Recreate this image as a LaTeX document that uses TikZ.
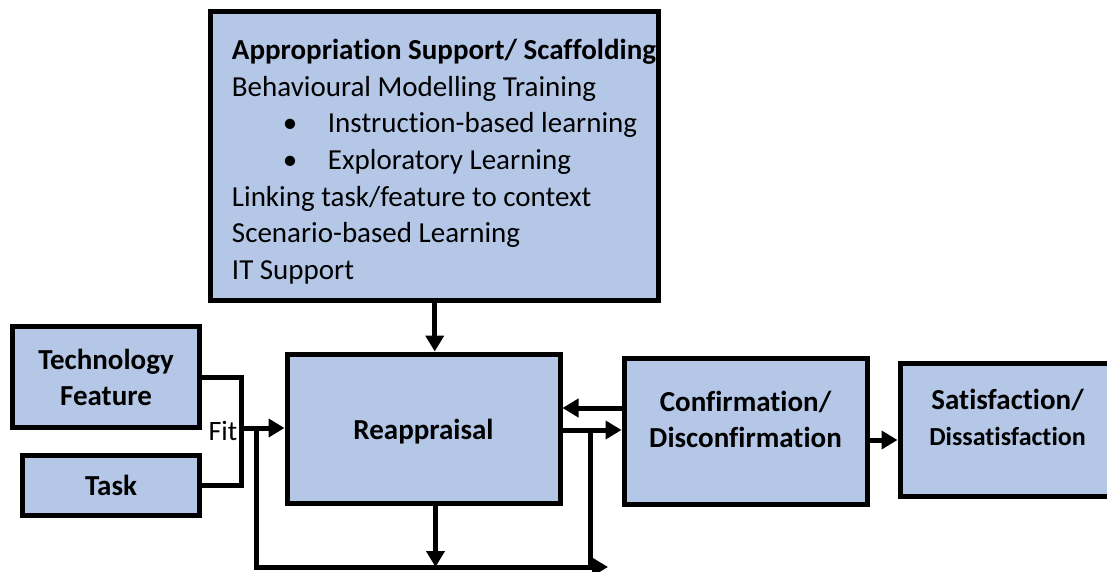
\documentclass[tikz,border=0pt]{standalone}
\usepackage{fontspec}
\setmainfont{Carlito}[Ligatures={NoCommon}]
\usepackage{tikz}
\definecolor{boxfill}{HTML}{B4C7E7}
\usetikzlibrary{arrows.meta, calc, positioning}

\begin{document}
\begin{tikzpicture}[x=1pt, y=-1pt]

  \tikzstyle{box} = [%
  draw=black,
  fill=boxfill,
  line width=5pt,
  rectangle,
  inner sep=0pt,
  font=\fontsize{29}{36}\bfseries,
  align=center,
  ];
  \tikzstyle{lbl} = [%
  inner sep=0pt,
  align=center,
  font=\fontsize{29}{36.5}\bfseries,
  ];
  \tikzstyle{arr} = [%
  line width=5pt,
  -{Triangle[length=16pt, width=18pt]},
  ];
  \tikzset{wire/.style={line width=5pt}}

  \useasboundingbox (0,0) rectangle (1107,572);

  % boxes
  \node[box, minimum width=448pt, minimum height=289pt]
    (appr) at (434.75,156.25) {};
  \node[anchor=north west, inner sep=0pt, align=left,
        font=\fontsize{29}{36.6}\selectfont]
    (apprtxt) at ([xshift=23.5pt, yshift=-30pt]appr.north west) {%
      \textbf{Appropriation Support/ Scaffolding}\\
      Behavioural Modelling Training\\
      \hspace*{51pt}\makebox[45pt][l]{\textbullet}Instruction-based learning\\
      \hspace*{51pt}\makebox[45pt][l]{\textbullet}Exploratory Learning\\
      Linking task/feature to context\\
      Scenario-based Learning\\
      IT Support};
  \node[box, minimum width=187pt, minimum height=101pt]
    (tech) at (106,377) {Technology\\Feature};
  \node[box, minimum width=177pt, minimum height=60pt]
    (task) at (111,485) {Task};
  \node[box, minimum width=273pt, minimum height=149pt]
    (reapp) at (423.5,428.5) {};
  \node[lbl] (reapptxt) at ([yshift=-3pt]reapp.center) {Reappraisal};
  \node[box, minimum width=243pt, minimum height=146pt]
    (conf) at (745.5,431) {};
  \node[lbl, anchor=north] at ([yshift=-35pt]conf.north)
    {Confirmation/\\Disconfirmation};
  \node[box, minimum width=215pt, minimum height=133pt]
    (sat) at (1007.5,429.5) {};
  \node[lbl, anchor=north] at ([yshift=-28pt]sat.north)
    {Satisfaction/\\{\fontsize{26}{30}\selectfont Dissatisfaction}};

  % connectors
  \coordinate (fit) at (241,428);
  \coordinate (loopl) at (256,428);
  \coordinate (loopend) at (608,567);
  \coordinate (split) at (590,430);

  \draw[wire] (tech.east) -| (fit) |- (task.east);
  \node[anchor=east, font=\fontsize{28}{30}\selectfont, inner sep=3.5pt]
    (fitlbl) at ([yshift=-3pt]fit) {Fit};
  \draw[arr] (fit) -- (reapp.west |- fit);
  \draw[arr] (loopl) |- (loopend);
  \draw[wire] (split) -- (split |- loopend);
  \draw[arr] (appr.south) -- (reapp.north -| appr.south);
  \draw[arr] ([xshift=12pt]reapp.south) -- ([xshift=12pt]reapp.south |- loopend);
  \draw[arr] ([yshift=-1.5pt]reapp.east) coordinate (ro) -- (conf.west |- ro);
  \draw[arr] ([yshift=23pt]conf.west) coordinate (cr) -- (reapp.east |- cr);
  \draw[arr] ([yshift=-9pt]conf.east) coordinate (cs) -- (sat.west |- cs);

\end{tikzpicture}
\end{document}
